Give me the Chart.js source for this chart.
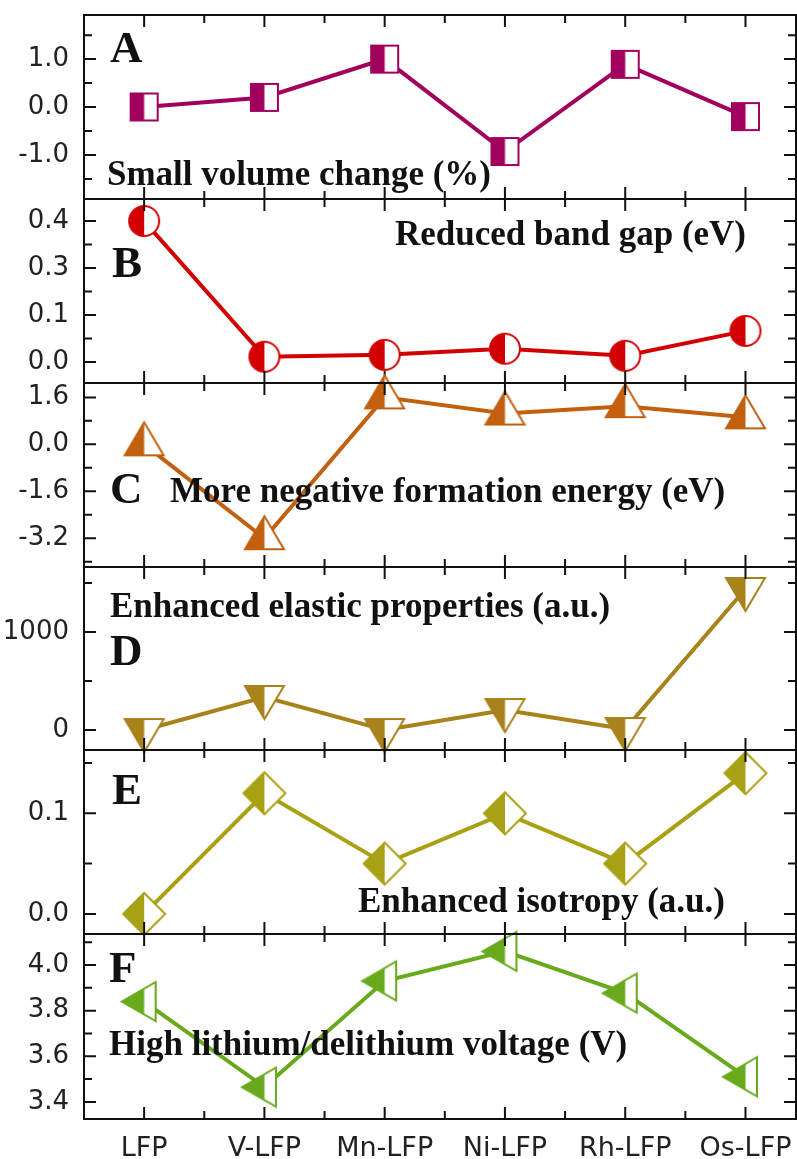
<!DOCTYPE html>
<html>
<head>
<meta charset="utf-8">
<script src="https://cdn.jsdelivr.net/npm/chart.js@4/dist/chart.umd.min.js"></script>
<style>
html, body { margin: 0; padding: 0; background: #fff; overflow: hidden; }
#wrap { position: relative; width: 797px; height: 1159px; }
#wrap canvas { position: absolute; left: 0; }
</style>
</head>
<body>
<div id="wrap"></div>
<script>
// categories
var materials = ['LFP', 'V-LFP', 'Mn-LFP', 'Ni-LFP', 'Rh-LFP', 'Os-LFP'];

// series values, one per panel
var volumeChange    = [0.0, 0.2, 1.0, -0.93, 0.89, -0.2];
var bandGap         = [0.4, 0.011, 0.015, 0.028, 0.013, 0.066];
var formationEnergy = [0.0, -3.2, 1.6, 1.05, 1.3, 0.92];
var elastic         = [0, 337, 0, 204, 10, 1439];
var isotropy        = [0.0, 0.12, 0.05, 0.10, 0.05, 0.14];
var voltage         = [3.84, 3.465, 3.93, 4.06, 3.877, 3.51];

// y tick values and labels
var ticksA = [-1.0, 0.0, 1.0],        labelsA = ['-1.0', '0.0', '1.0'];
var ticksB = [0.0, 0.1, 0.3, 0.4],    labelsB = ['0.0', '0.1', '0.3', '0.4'];
var ticksC = [-3.2, -1.6, 0.0, 1.6],  labelsC = ['-3.2', '-1.6', '0.0', '1.6'];
var ticksD = [0, 1000],               labelsD = ['0', '1000'];
var ticksE = [0.0, 0.1],              labelsE = ['0.0', '0.1'];
var ticksF = [3.4, 3.6, 3.8, 4.0],    labelsF = ['3.4', '3.6', '3.8', '4.0'];

var minorA = [-1.5, -0.5, 0.5, 1.5];
var minorB = [0.05, 0.2, 0.35];
var minorC = [-4.0, -2.4, -0.8, 0.8];
var minorD = [500, 1500];
var minorE = [0.05, 0.15];
var minorF = [3.5, 3.7, 3.9, 4.1];

// panel B has a broken axis: 0.1 -> 0.3 takes one tick step
var GAP_LO = 0.1, GAP_HI = 0.3;
function fold(v) {
  if (v <= GAP_LO) return v;
  if (v >= GAP_HI) return v - (GAP_HI - GAP_LO) / 2;
  return GAP_LO + (v - GAP_LO) / 2;
}
class BrokenScale extends Chart.LinearScale {
  getPixelForValue(v) {
    if (v === null || v === undefined) return NaN;
    var a = fold(this.min), b = fold(this.max);
    return this.getPixelForDecimal((fold(v) - a) / (b - a));
  }
  getValueForPixel(px) {
    var a = fold(this.min), b = fold(this.max);
    var f = a + this.getDecimalForPixel(px) * (b - a);
    if (f <= GAP_LO) return f;
    if (f >= GAP_LO + (GAP_HI - GAP_LO) / 2) return f + (GAP_HI - GAP_LO) / 2;
    return GAP_LO + (f - GAP_LO) * 2;
  }
}
BrokenScale.id = 'broken';
BrokenScale.defaults = Chart.LinearScale.defaults;
Chart.register(BrokenScale);

// half filled marker, point sits on the centre of the picture
function marker(shape, color) {
  var m = 3, w, h, W, H;
  if (shape == 'square') { w = 27; h = 27; W = w; H = h; }
  else if (shape == 'circle') { w = 30; h = 30; W = w; H = h; }
  else if (shape == 'up' || shape == 'down') { w = 39; h = 33; W = w; H = h * 4 / 3; }
  else if (shape == 'diamond') { w = 42; h = 42; W = w; H = h; }
  else { w = 34; h = 39; W = w * 4 / 3; H = h; }
  var c = document.createElement('canvas');
  c.width = Math.round(W + 2 * m); c.height = Math.round(H + 2 * m);
  var g = c.getContext('2d');
  var cx = c.width / 2;
  function path() {
    g.beginPath();
    if (shape == 'square') g.rect(m, m, w, h);
    else if (shape == 'circle') g.arc(cx, c.height / 2, w / 2, 0, Math.PI * 2);
    else if (shape == 'up') { g.moveTo(m + w / 2, m); g.lineTo(m + w, m + h); g.lineTo(m, m + h); g.closePath(); }
    else if (shape == 'down') { var y0 = m + h / 3; g.moveTo(m, y0); g.lineTo(m + w, y0); g.lineTo(m + w / 2, y0 + h); g.closePath(); }
    else if (shape == 'diamond') { g.moveTo(cx, m); g.lineTo(m + w, m + h / 2); g.lineTo(cx, m + h); g.lineTo(m, m + h / 2); g.closePath(); }
    else { g.moveTo(m, m + h / 2); g.lineTo(m + w, m); g.lineTo(m + w, m + h); g.closePath(); }
  }
  path(); g.fillStyle = '#fff'; g.fill();
  g.save(); g.beginPath(); g.rect(0, 0, cx, c.height); g.clip();
  path(); g.fillStyle = color; g.fill();
  g.restore();
  path(); g.strokeStyle = color; g.lineWidth = 2; g.lineJoin = 'miter'; g.stroke();
  return c;
}

var panels = [
  { values: volumeChange, color: '#a1005c', shape: 'square', min: -1.92, max: 1.92,
    ticks: ticksA, labels: labelsA, minor: minorA, top: 15, bottom: 199,
    notes: [{ t: 'A', x: 110, y: 62, s: 45 }, { t: 'Small volume change (%)', x: 107, y: 185, s: 35 }] },
  { values: bandGap, color: '#d20000', shape: 'circle', min: -0.045, max: 0.447, broken: true,
    ticks: ticksB, labels: labelsB, minor: minorB, top: 199, bottom: 383,
    notes: [{ t: 'B', x: 112, y: 277, s: 45 }, { t: 'Reduced band gap (eV)', x: 395, y: 245, s: 35 }] },
  { values: formationEnergy, color: '#c2600f', shape: 'up', min: -4.18, max: 2.09,
    ticks: ticksC, labels: labelsC, minor: minorC, top: 383, bottom: 567,
    notes: [{ t: 'C', x: 110, y: 503, s: 45 }, { t: 'More negative formation energy (eV)', x: 170, y: 502, s: 35 }] },
  { values: elastic, color: '#a8821a', shape: 'down', min: -204, max: 1663,
    ticks: ticksD, labels: labelsD, minor: minorD, top: 567, bottom: 750,
    notes: [{ t: 'Enhanced elastic properties (a.u.)', x: 110, y: 617, s: 35 }, { t: 'D', x: 110, y: 665, s: 45 }] },
  { values: isotropy, color: '#a9a114', shape: 'diamond', min: -0.02, max: 0.163,
    ticks: ticksE, labels: labelsE, minor: minorE, top: 750, bottom: 934,
    notes: [{ t: 'E', x: 112, y: 804, s: 45 }, { t: 'Enhanced isotropy (a.u.)', x: 358, y: 912, s: 35 }] },
  { values: voltage, color: '#69aa1d', shape: 'left', min: 3.325, max: 4.136,
    ticks: ticksF, labels: labelsF, minor: minorF, top: 934, bottom: 1119,
    notes: [{ t: 'F', x: 109, y: 982, s: 45 }, { t: 'High lithium/delithium voltage (V)', x: 109, y: 1055, s: 35 }] }
];

var PAD = 20;

function framePlugin(p, canvasTop) {
  return {
    id: 'frame',
    afterDraw: function (chart) {
      var ctx = chart.ctx, a = chart.chartArea, xs = chart.scales.x, ys = chart.scales.y;
      ctx.save();
      ctx.strokeStyle = '#111';
      ctx.lineWidth = 2;
      ctx.strokeRect(a.left, a.top, a.right - a.left, a.bottom - a.top);
      ctx.beginPath();
      function hTick(y, len) {
        ctx.moveTo(a.left, y); ctx.lineTo(a.left + len, y);
        ctx.moveTo(a.right, y); ctx.lineTo(a.right - len, y);
      }
      function vTick(x, len) {
        if (x > a.right - 2) return;
        ctx.moveTo(x, a.top); ctx.lineTo(x, a.top + len);
        ctx.moveTo(x, a.bottom); ctx.lineTo(x, a.bottom - len);
      }
      p.ticks.forEach(function (v) { hTick(ys.getPixelForValue(v), 12); });
      p.minor.forEach(function (v) { hTick(ys.getPixelForValue(v), 8); });
      materials.forEach(function (m, i) {
        vTick(xs.getPixelForValue(i), 12);
        vTick(xs.getPixelForValue(i + 0.5), 8);
      });
      ctx.stroke();
      ctx.fillStyle = '#111';
      ctx.textAlign = 'left';
      ctx.textBaseline = 'alphabetic';
      p.notes.forEach(function (n) {
        ctx.font = 'bold ' + n.s + 'px "Liberation Serif"';
        ctx.fillText(n.t, n.x, n.y - canvasTop);
      });
      ctx.restore();
    }
  };
}

var wrap = document.getElementById('wrap');
panels.forEach(function (p, k) {
  var last = k == panels.length - 1;
  var canvasTop = p.top - PAD;
  var canvasH = last ? 1159 - canvasTop : (p.bottom - p.top) + 2 * PAD;
  var cv = document.createElement('canvas');
  cv.width = 797; cv.height = canvasH;
  cv.style.top = canvasTop + 'px';
  cv.style.width = '797px'; cv.style.height = canvasH + 'px';
  wrap.appendChild(cv);

  new Chart(cv, {
    type: 'line',
    data: {
      datasets: [{
        data: p.values.map(function (v, i) { return { x: i, y: v }; }),
        borderColor: p.color,
        borderWidth: 4,
        pointStyle: marker(p.shape, p.color),
        pointRadius: 16,
        tension: 0,
        clip: false
      }]
    },
    options: {
      responsive: false,
      animation: false,
      devicePixelRatio: 1,
      events: [],
      layout: { autoPadding: false, padding: { top: PAD, bottom: last ? 0 : PAD, left: 0, right: 1 } },
      plugins: { legend: { display: false }, tooltip: { enabled: false } },
      scales: {
        x: {
          type: 'linear', min: -0.5, max: 5.42, display: last,
          grid: { display: false, drawTicks: false }, border: { display: false },
          afterBuildTicks: function (s) { s.ticks = materials.map(function (m, i) { return { value: i }; }); },
          afterFit: function (s) {
            s.height = last ? 40 : 0;
            s.paddingLeft = 0; s.paddingRight = 0;
          },
          ticks: {
            callback: function (v) { return materials[v]; },
            autoSkip: false, maxRotation: 0, padding: 14,
            font: { family: 'DejaVu Sans', size: 27 }, color: '#222'
          }
        },
        y: {
          type: p.broken ? 'broken' : 'linear', min: p.min, max: p.max,
          grid: { display: false, drawTicks: false }, border: { display: false },
          afterBuildTicks: function (s) { s.ticks = p.ticks.map(function (v) { return { value: v }; }); },
          afterFit: function (s) {
            s.width = 84;
            s.paddingTop = 0; s.paddingBottom = 0;
          },
          ticks: {
            callback: function (v) { return p.labels[p.ticks.indexOf(v)]; },
            padding: 15,
            font: { family: 'DejaVu Sans', size: 26 }, color: '#222'
          }
        }
      }
    },
    plugins: [framePlugin(p, canvasTop)]
  });
});
</script>
</body>
</html>
